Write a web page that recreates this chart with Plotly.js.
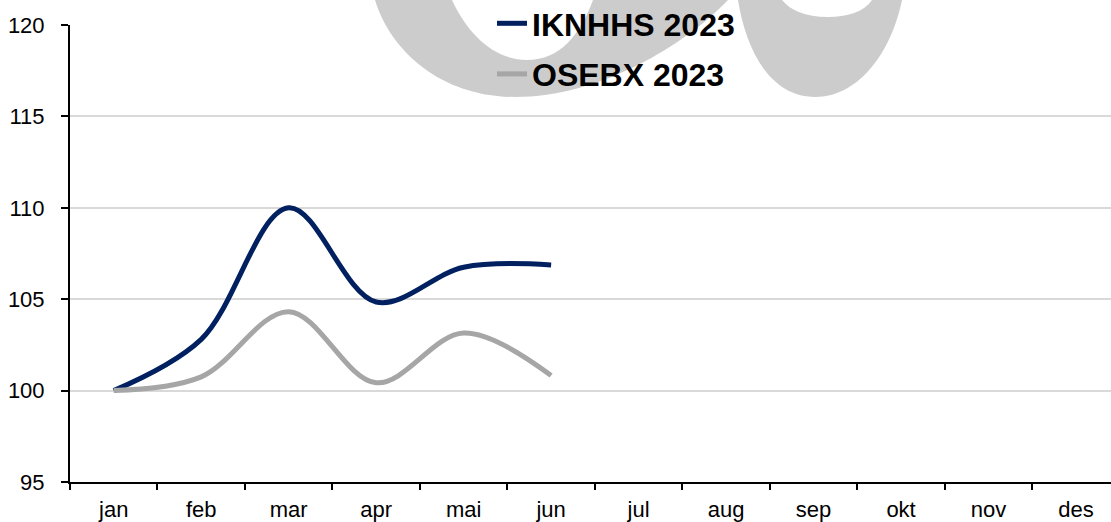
<!DOCTYPE html>
<html>
<head>
<meta charset="utf-8">
<script src="https://cdn.plot.ly/plotly-3.0.1.min.js"></script>
<style>html,body{margin:0;padding:0;background:#fff;}#chart{width:1111px;height:522px;}</style>
</head>
<body>
<div id="chart"></div>
<script>
const months = ["jan","feb","mar","apr","mai","jun","jul","aug","sep","okt","nov","des"];
const iknhhsMonths = ["jan","feb","mar","apr","mai","jun"];
const iknhhs2023 = [100.0, 102.8, 110.0, 104.85, 106.75, 106.87];
const osebxMonths = ["jan","feb","mar","apr","mai","jun"];
const osebx2023 = [100.0, 100.75, 104.32, 100.43, 103.15, 100.82];
const seriesNames = ["IKNHHS 2023", "OSEBX 2023"];
const yTicks = [95, 100, 105, 110, 115, 120];

// decorative watermark logo (pixel space of the 1111x522 figure)
const wmPathA = "M375,0 C392,55 445,97 515,97 C600,97 685,45 728,0 L593,0 C580,35 560,60 527,60 C495,60 468,35 452,0 Z";
const wmPathB = "M738,0 C746,50 770,97 815,97 C860,97 892,50 902,0 L872,0 C864,12 847,17 828,17 C805,17 790,10 782,0 Z";
const wmSvg = '<svg xmlns="http://www.w3.org/2000/svg" width="1111" height="522" viewBox="0 0 1111 522">' +
  '<path d="' + wmPathA + '" fill="#cccccc"/><path d="' + wmPathB + '" fill="#cccccc"/></svg>';
const wmSrc = "data:image/svg+xml;charset=utf-8," + encodeURIComponent(wmSvg);

const L = 70, R = 0, T = 25, B = 40, W = 1111, H = 522;
const pw = W - L - R, ph = H - T - B;

const traces = [
  {x: iknhhsMonths, y: iknhhs2023, name: seriesNames[0], type: "scatter", mode: "lines",
   line: {color: "#002060", width: 5, shape: "spline", smoothing: 1}, legendgroup: "a"},
  {x: osebxMonths, y: osebx2023, name: seriesNames[1], type: "scatter", mode: "lines",
   line: {color: "#a6a6a6", width: 5, shape: "spline", smoothing: 1}, legendgroup: "b"}
];

const layout = {
  width: W, height: H,
  margin: {l: L, r: R, t: T, b: B, autoexpand: false},
  paper_bgcolor: "#ffffff", plot_bgcolor: "rgba(0,0,0,0)",
  font: {family: "Liberation Sans, Arial, sans-serif", size: 22, color: "#000"},
  showlegend: true,
  legend: {x: (616 - L) / pw, xanchor: "center", y: (H - B + 4) / ph, yanchor: "top",
           bgcolor: "rgba(0,0,0,0)", font: {size: 32, weight: "bold", color: "#000"},
           tracegroupgap: 6, orientation: "v"},
  xaxis: {type: "category", categoryarray: months, categoryorder: "array",
          range: [-0.5, 11.4], tickson: "boundaries", ticks: "outside", ticklen: 6, tickwidth: 2,
          tickcolor: "#000", showline: true, linecolor: "#000", linewidth: 2,
          tickfont: {size: 22}, showgrid: false, zeroline: false, ticklabelstandoff: 7, fixedrange: true},
  yaxis: {range: [95, 120], tickvals: yTicks, ticktext: yTicks.map(String),
          ticks: "outside", ticklen: 7, tickwidth: 2, tickcolor: "#000",
          showline: true, linecolor: "#000", linewidth: 2, tickfont: {size: 22},
          showgrid: true, gridcolor: "#d9d9d9", gridwidth: 2, zeroline: false,
          ticklabelstandoff: 12, fixedrange: true},
  images: [{source: wmSrc, xref: "paper", yref: "paper",
            x: -L / pw, y: (H - B) / ph, sizex: W / pw, sizey: H / ph,
            xanchor: "left", yanchor: "top", sizing: "stretch", layer: "below"}]
};

Plotly.newPlot("chart", traces, layout, {displayModeBar: false, staticPlot: true});
</script>
</body>
</html>
